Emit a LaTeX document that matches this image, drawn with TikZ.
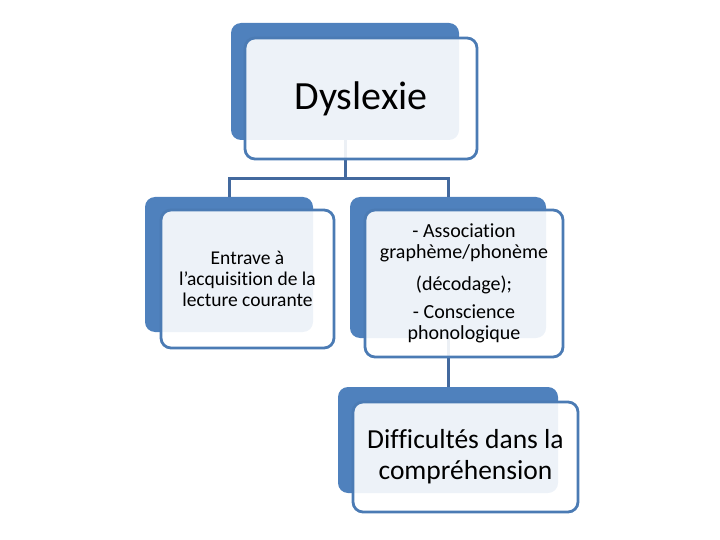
\documentclass[tikz,border=0pt]{standalone}
\usepackage{fontspec}
\setmainfont{Carlito}[Ligatures=NoCommon]
\definecolor{boxblue}{HTML}{4F81BD}
\definecolor{lineblue}{HTML}{43699E}

\begin{document}
\begin{tikzpicture}[x=1pt, y=-1pt]
\useasboundingbox (0,0) rectangle (720,540);

\coordinate (J1) at (345, 179);


\tikzset{BackStyle/.style = {
 shape = rectangle,
 fill = boxblue,
 rounded corners = 10pt,
 inner sep = 0pt} }

\node[BackStyle, minimum width=228pt, minimum height=117pt] (B1) at (345, 81.5) {};
\node[BackStyle, minimum width=168pt, minimum height=135pt] (B2) at (229, 264.5) {};
\node[BackStyle, minimum width=196pt, minimum height=141pt] (B3) at (448, 267.5) {};
\node[BackStyle, minimum width=220pt, minimum height=106pt] (B4) at (448, 440) {};


\tikzset{LinkStyle/.style = {draw = lineblue, line width = 3pt} }

\draw[LinkStyle] (B1.south) -- (J1) -| (B2.north);
\draw[LinkStyle] (J1) -| (B3.north);
\draw[LinkStyle] (B3.south) -- (B4.north);


\tikzset{FrontStyle/.style = {
 shape = rectangle,
 draw = boxblue!95!black,
 line width = 2.8pt,
 fill = white,
 fill opacity = 0.9,
 text opacity = 1,
 text = black,
 rounded corners = 10pt,
 inner sep = 0pt,
 align = center} }

\node[FrontStyle, minimum width=232pt, minimum height=121pt,
 font=\fontsize{40}{48}\selectfont] (F1) at (361, 98.5) {Dyslexie};
\node[FrontStyle, minimum width=173pt, minimum height=138pt,
 font=\fontsize{19.5}{21}\selectfont] (F2) at (247.5, 279)
 {Entrave à\\ l’acquisition de la\\ lecture courante};
\node[FrontStyle, minimum width=198pt, minimum height=147pt,
 font=\fontsize{20}{21.5}\selectfont] (F3) at (464, 283.5)
 {- Association\\ graphème/phonème\\[10pt] (décodage);\\[6.5pt] - Conscience\\ phonologique};
\node[FrontStyle, minimum width=225pt, minimum height=110pt,
 font=\fontsize{27.5}{31}\selectfont] (F4) at (465.5, 457)
 {Difficultés dans la\\ compréhension};

\end{tikzpicture}
\end{document}
